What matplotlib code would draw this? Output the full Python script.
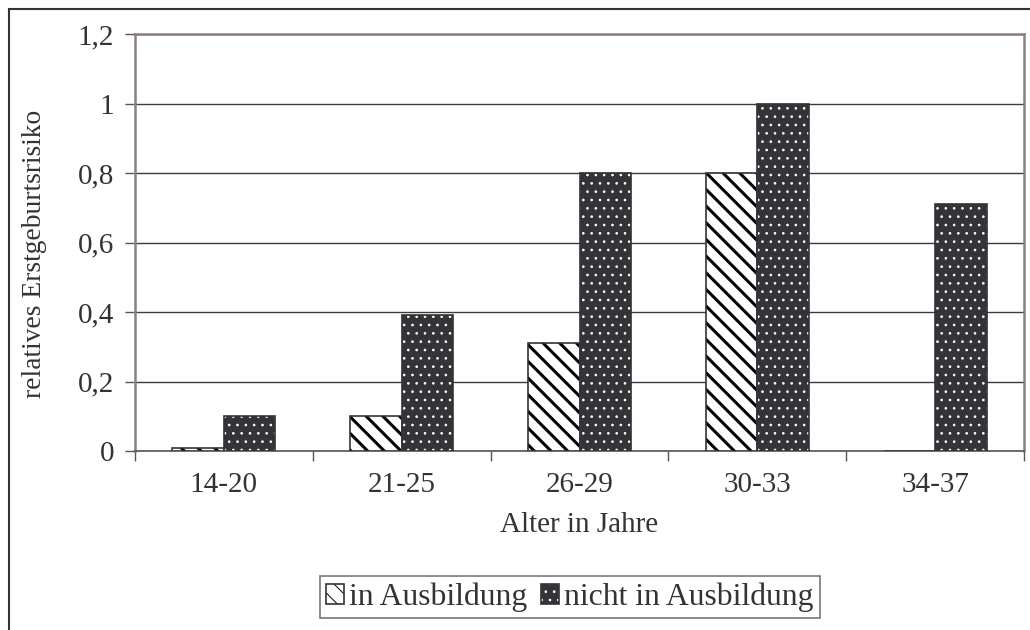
import numpy as np
import matplotlib
matplotlib.use("Agg")
import matplotlib.pyplot as plt
from matplotlib.patches import Patch
from matplotlib.lines import Line2D
from matplotlib.legend_handler import HandlerTuple

# data
age_groups = ['14-20', '21-25', '26-29', '30-33', '34-37']
in_training = [0.01, 0.10, 0.31, 0.80, 0.0]
not_in_training = [0.10, 0.39, 0.80, 1.00, 0.71]
y_ticks = [0, 0.2, 0.4, 0.6, 0.8, 1.0, 1.2]
y_tick_labels = ['0', '0,2', '0,4', '0,6', '0,8', '1', '1,2']

plt.rcParams['font.family'] = ['Liberation Serif', 'DejaVu Serif']
plt.rcParams['font.size'] = 21

dark = '#333338'
frame_gray = '#8a8080'
STRIPE_LW = 2.2
DOT_LW = 0.7


def hatch_lw(artists, lw):
    # per-patch hatch width where the matplotlib version supports it
    for a in artists:
        if hasattr(a, 'set_hatch_linewidth'):
            a.set_hatch_linewidth(lw)


fig = plt.figure(figsize=(10.3, 6.3), dpi=100)
ax = fig.add_axes([0.1311, 0.2841, 0.8631, 0.6619])

x = np.arange(len(age_groups))
w = 0.29

# "in Ausbildung": white with diagonal stripes
plt.rcParams['hatch.linewidth'] = STRIPE_LW
b1 = ax.bar(x - w / 2, in_training, w, color='white', edgecolor='black',
            hatch='\\\\', linewidth=0, zorder=3)
hatch_lw(b1, STRIPE_LW)
ax.bar(x - w / 2, in_training, w, fill=False, edgecolor=dark,
       linewidth=1.2, zorder=4)

# "nicht in Ausbildung": dark with white dots
plt.rcParams['hatch.linewidth'] = DOT_LW
b2 = ax.bar(x + w / 2, not_in_training, w, color=dark, edgecolor='white',
            hatch='..', linewidth=0, zorder=3)
hatch_lw(b2, DOT_LW)
ax.bar(x + w / 2, not_in_training, w, fill=False, edgecolor=dark,
       linewidth=1.2, zorder=4)

ax.set_xlim(-0.5, len(age_groups) - 0.5)
ax.set_ylim(0, 1.2)
ax.set_yticks(y_ticks)
ax.set_yticklabels(y_tick_labels)
ax.set_xticks(x)
ax.set_xticklabels(age_groups)
ax.set_xticks(np.arange(len(age_groups) + 1) - 0.5, minor=True)

ax.tick_params(axis='x', which='major', length=0, pad=15, colors='#333333')
ax.tick_params(axis='x', which='minor', length=7, width=1, color='#555555')
ax.tick_params(axis='y', length=7, width=1, pad=8, color='#555555',
               labelcolor='#333333')

ax.yaxis.grid(True, color='#3a3a3a', linewidth=1)
ax.set_axisbelow(True)

for side in ['left', 'right', 'top']:
    ax.spines[side].set_color(frame_gray)
    ax.spines[side].set_linewidth(1.8)
ax.spines['bottom'].set_color('#555555')
ax.spines['bottom'].set_linewidth(1.2)

ax.set_xlabel('Alter in Jahre', color='#333333')
ax.xaxis.set_label_coords(0.5, -0.147)
ax.set_ylabel('relatives Erstgeburtsrisiko', color='#333333', fontsize=19.8)
ax.yaxis.set_label_coords(-0.099, 0.472)

# legend with combined handles (pattern + outline)
p1 = Patch(facecolor='white', edgecolor='black', hatch='\\\\', linewidth=0)
p2 = Patch(facecolor=dark, edgecolor='white', hatch='..', linewidth=0)
hatch_lw([p1], STRIPE_LW)
hatch_lw([p2], DOT_LW)
h1 = (p1, Patch(fill=False, edgecolor=dark, linewidth=1.2))
h2 = (p2, Patch(fill=False, edgecolor=dark, linewidth=1.2))
leg = fig.legend([h1, h2], ['in Ausbildung', 'nicht in Ausbildung'],
                 handler_map={tuple: HandlerTuple(ndivide=1)},
                 loc='center', bbox_to_anchor=(0.553, 0.052), ncol=2,
                 prop={'size': 22.8},
                 handlelength=0.57, handleheight=0.57, handletextpad=0.16,
                 columnspacing=0.42, borderpad=0.2, borderaxespad=0,
                 fancybox=False, framealpha=1, edgecolor='#777777')
leg.get_frame().set_linewidth(1.2)
for t in leg.get_texts():
    t.set_color('#333333')

# outer chart frame (cropped on right and bottom)
x0 = 9 / 1030
y0 = 1 - 9 / 630
fig.add_artist(Line2D([x0, 1.0], [y0, y0], color='#333333', linewidth=1.5))
fig.add_artist(Line2D([x0, x0], [0.0, y0], color='#333333', linewidth=1.5))

fig.savefig('out.png', dpi=100)
